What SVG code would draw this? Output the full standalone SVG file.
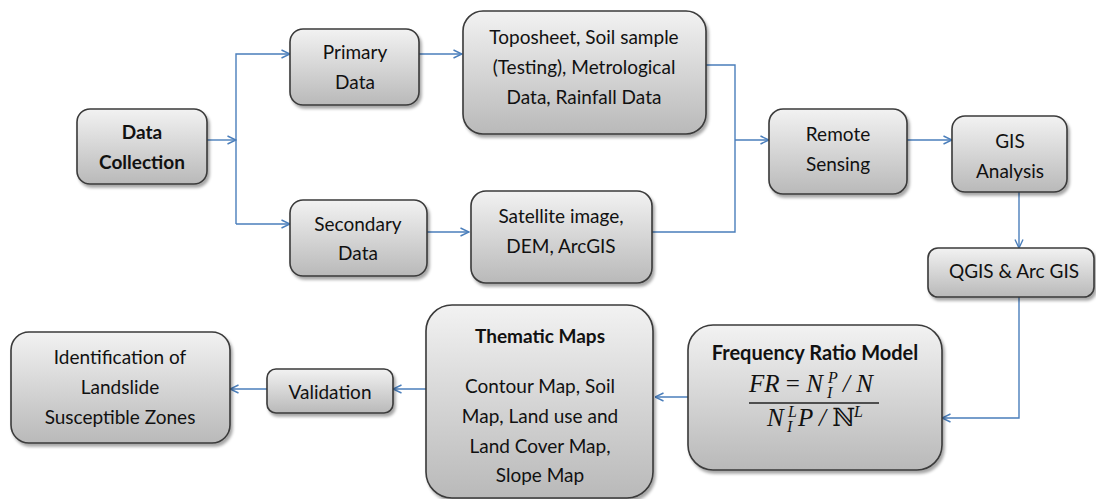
<svg xmlns="http://www.w3.org/2000/svg" width="1096" height="499" viewBox="0 0 1096 499">
<style>
.box{fill:url(#g);stroke:#3a3a3a;stroke-width:1.6;filter:url(#sh)}
.t{font-family:Lato,"Open Sans","Liberation Sans",sans-serif;font-size:19px;fill:#111;text-anchor:middle}
.b{font-weight:bold}
.c{fill:none;stroke:#4a7ebb;stroke-width:1.4}
.m{font-family:"Liberation Serif","DejaVu Serif",serif;font-style:italic;fill:#111;font-size:25px}
.ms{font-family:"Liberation Serif","DejaVu Serif",serif;font-style:italic;fill:#111;font-size:16px}
</style>
<defs>
<linearGradient id="g" x1="0" y1="0" x2="0" y2="1">
<stop offset="0" stop-color="#f2f2f2"/>
<stop offset="1" stop-color="#b9b9b9"/>
</linearGradient>
<filter id="sh" x="-10%" y="-10%" width="130%" height="130%">
<feDropShadow dx="2" dy="3" stdDeviation="1.5" flood-color="#000" flood-opacity="0.35"/>
</filter>
<marker id="a" viewBox="0 0 10 10" refX="9.5" refY="5" markerWidth="10" markerHeight="10" markerUnits="userSpaceOnUse" orient="auto">
<path d="M1,1 L9.5,5 L1,9" fill="none" stroke="#4a7ebb" stroke-width="1.4"/>
</marker>
</defs>
<rect width="1096" height="499" fill="#fff"/>
<g id="connectors">
<path class="c" d="M207,140 H236" marker-end="url(#a)"/>
<path class="c" d="M236,224 V54 H290" marker-end="url(#a)"/>
<path class="c" d="M236,224 H290" marker-end="url(#a)"/>
<path class="c" d="M419,54 H462" marker-end="url(#a)"/>
<path class="c" d="M427,232 H469" marker-end="url(#a)"/>
<path class="c" d="M705,65 H735 V232 H651"/>
<path class="c" d="M735,140 H769" marker-end="url(#a)"/>
<path class="c" d="M907,140 H952" marker-end="url(#a)"/>
<path class="c" d="M1019,192 V248" marker-end="url(#a)"/>
<path class="c" d="M1019,297 V418 H942" marker-end="url(#a)"/>
<path class="c" d="M688,397 H655" marker-end="url(#a)"/>
<path class="c" d="M426,389 H393" marker-end="url(#a)"/>
<path class="c" d="M267,389 H230" marker-end="url(#a)"/>
</g>
<g id="data-collection">
<rect class="box" x="77" y="109" width="130" height="75" rx="13"/>
<text class="t b" x="142" y="139">Data</text>
<text class="t b" x="142" y="169">Collection</text>
</g>
<g id="primary-data">
<rect class="box" x="290" y="29" width="129" height="76" rx="13"/>
<text class="t" x="355" y="59">Primary</text>
<text class="t" x="355" y="89">Data</text>
</g>
<g id="secondary-data">
<rect class="box" x="290" y="200" width="137" height="76" rx="13"/>
<text class="t" x="358" y="231">Secondary</text>
<text class="t" x="358" y="260">Data</text>
</g>
<g id="toposheet">
<rect class="box" x="463" y="11" width="243" height="123" rx="20"/>
<text class="t" x="584" y="44">Toposheet, Soil sample</text>
<text class="t" x="584" y="74">(Testing), Metrological</text>
<text class="t" x="584" y="104">Data, Rainfall Data</text>
</g>
<g id="satellite">
<rect class="box" x="471" y="191" width="181" height="92" rx="15"/>
<text class="t" x="561" y="223">Satellite image,</text>
<text class="t" x="561" y="253">DEM, ArcGIS</text>
</g>
<g id="remote-sensing">
<rect class="box" x="769" y="109" width="138" height="85" rx="14"/>
<text class="t" x="838" y="141">Remote</text>
<text class="t" x="838" y="171">Sensing</text>
</g>
<g id="gis-analysis">
<rect class="box" x="952" y="116" width="115" height="76" rx="13"/>
<text class="t" x="1010" y="148">GIS</text>
<text class="t" x="1010" y="178">Analysis</text>
</g>
<g id="qgis">
<rect class="box" x="928" y="248" width="166" height="49" rx="10"/>
<text class="t" x="1014" y="278">QGIS &amp; Arc GIS</text>
</g>
<g id="frequency-ratio">
<rect class="box" x="688" y="325" width="254" height="145" rx="25"/>
<text class="t b" x="815" y="360" style="font-size:20px">Frequency Ratio Model</text>
<text class="m" x="749" y="392">FR <tspan font-style="normal">=</tspan> N</text>
<text class="ms" x="828" y="383">P</text>
<text class="ms" x="827" y="398">I</text>
<text class="m" x="843" y="392">/ N</text>
<line x1="749" y1="403" x2="879" y2="403" stroke="#222" stroke-width="1.3"/>
<text class="m" x="767" y="426">N</text>
<text class="ms" x="788" y="417">L</text>
<text class="ms" x="787" y="432">I</text>
<text class="m" x="798" y="426">P / <tspan font-style="normal" font-family="DejaVu Serif">ℕ</tspan></text>
<text class="ms" x="854" y="417">L</text>
</g>
<g id="thematic-maps">
<rect class="box" x="426" y="305" width="227" height="193" rx="26"/>
<text class="t b" x="540" y="343">Thematic Maps</text>
<text class="t" x="540" y="393">Contour Map, Soil</text>
<text class="t" x="540" y="423">Map, Land use and</text>
<text class="t" x="540" y="453">Land Cover Map,</text>
<text class="t" x="540" y="482">Slope Map</text>
</g>
<g id="validation">
<rect class="box" x="267" y="369" width="126" height="44" rx="9"/>
<text class="t" x="330" y="399">Validation</text>
</g>
<g id="identification">
<rect class="box" x="11" y="332" width="219" height="111" rx="18"/>
<text class="t" x="120" y="364">Identification of</text>
<text class="t" x="120" y="394">Landslide</text>
<text class="t" x="120" y="424">Susceptible Zones</text>
</g>
</svg>
